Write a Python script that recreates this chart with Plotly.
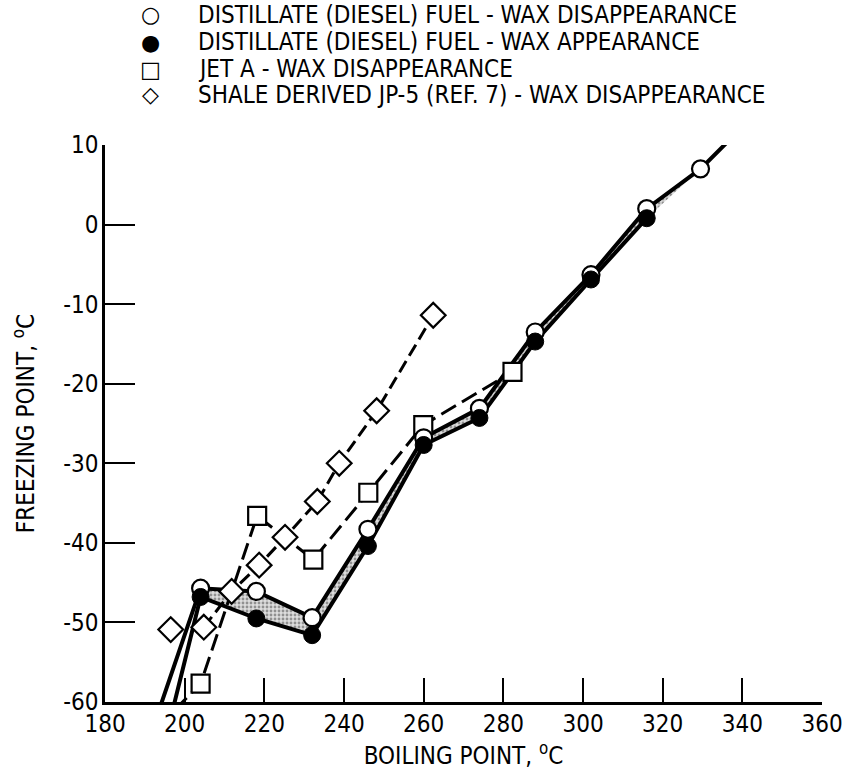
import plotly.graph_objects as go

# ---------------- data ----------------
# Distillate (diesel) fuel - wax disappearance (open circles)
dis_x = [204, 218, 232, 246, 260, 274, 288, 302, 316, 329.5]
dis_y = [-45.7, -46.1, -49.4, -38.3, -26.8, -23.1, -13.5, -6.3, 2.0, 7.0]
# Distillate (diesel) fuel - wax appearance (filled circles)
app_x = [204, 218, 232, 246, 260, 274, 288, 302, 316]
app_y = [-46.8, -49.5, -51.6, -40.4, -27.7, -24.3, -14.7, -6.9, 0.8]
# Jet A - wax disappearance (open squares)
jet_x = [204, 218.2, 232.3, 246.1, 259.9, 282.3]
jet_y = [-57.7, -36.6, -42.1, -33.7, -25.2, -18.5]
# Shale derived JP-5 (ref. 7) - wax disappearance (open diamonds)
sha_x = [196.5, None, 204.8, 211.8, 218.7, 225.2, 233.3, 238.8, 248.2, 262.4]
sha_y = [-50.9, None, -50.6, -46.1, -42.8, -39.3, -34.8, -30.0, -23.4, -11.4]

# faired-curve continuations beyond the plotted points (clipped by axes)
dis_tail_x, dis_tail_y = [192.9], [-62.0]
dis_head_x, dis_head_y = [336.5], [10.5]
app_tail_x, app_tail_y = [196.5], [-62.0]
jet_tail_x, jet_tail_y = [197.5], [-61.0]

x_ticks = [180, 200, 220, 240, 260, 280, 300, 320, 340, 360]
x_tick_text = ["180", "200", "220", "240", "260", "280", "300", "320", "340", "360"]
y_ticks = [-60, -50, -40, -30, -20, -10, 0, 10]
y_tick_text = ["-60", "-50", "-40", "-30", "-20", "-10", "0", "10"]

legend_symbols = ["○", "●", "□", "◇"]
legend_labels = [
    "DISTILLATE (DIESEL) FUEL - WAX DISAPPEARANCE",
    "DISTILLATE (DIESEL) FUEL - WAX APPEARANCE",
    "JET A - WAX DISAPPEARANCE",
    "SHALE DERIVED JP-5 (REF. 7) - WAX DISAPPEARANCE",
]

FAM = "Liberation Sans Narrow, DejaVu Sans Condensed, Arial Narrow, sans-serif"


def f(size):
    return dict(family=FAM, size=size, color="black")


fig = go.Figure()

# stippled band between the two diesel curves
dis_line_x = dis_tail_x + dis_x + dis_head_x
dis_line_y = dis_tail_y + dis_y + dis_head_y
app_line_x = app_tail_x + app_x
app_line_y = app_tail_y + app_y
band_x = dis_x + app_x[::-1]
band_y = dis_y + app_y[::-1]
fig.add_trace(go.Scatter(
    x=band_x, y=band_y, mode="lines", fill="toself",
    line=dict(width=0, color="rgba(0,0,0,0)"),
    fillcolor="rgba(190,190,190,1)",
    fillpattern=dict(shape=".", fgcolor="#444444", bgcolor="#dddddd", size=4, solidity=0.4),
    hoverinfo="skip", showlegend=False))

# lines
fig.add_trace(go.Scatter(x=sha_x, y=sha_y, mode="lines", connectgaps=False,
                         line=dict(color="black", width=3, dash="13px,6px"),
                         showlegend=False))
fig.add_trace(go.Scatter(x=jet_tail_x + jet_x, y=jet_tail_y + jet_y, mode="lines",
                         line=dict(color="black", width=3, dash="17px,7px"),
                         showlegend=False))
fig.add_trace(go.Scatter(x=dis_line_x, y=dis_line_y, mode="lines",
                         line=dict(color="black", width=4), showlegend=False))
fig.add_trace(go.Scatter(x=app_line_x, y=app_line_y, mode="lines",
                         line=dict(color="black", width=4), showlegend=False))

# markers
fig.add_trace(go.Scatter(x=sha_x, y=sha_y, mode="markers",
                         marker=dict(symbol="diamond", size=19, color="white",
                                     line=dict(color="black", width=2.2)),
                         name=legend_labels[3], showlegend=False))
fig.add_trace(go.Scatter(x=jet_x, y=jet_y, mode="markers",
                         marker=dict(symbol="square", size=18, color="white",
                                     line=dict(color="black", width=2.2)),
                         name=legend_labels[2], showlegend=False))
fig.add_trace(go.Scatter(x=dis_x, y=dis_y, mode="markers",
                         marker=dict(symbol="circle", size=17, color="white",
                                     line=dict(color="black", width=2.2)),
                         name=legend_labels[0], showlegend=False))
fig.add_trace(go.Scatter(x=app_x, y=app_y, mode="markers",
                         marker=dict(symbol="circle", size=17, color="black",
                                     line=dict(color="black", width=1)),
                         name=legend_labels[1], showlegend=False))

# legend as text
row_y = [1.2334, 1.1849, 1.1364, 1.0898]
for sym, lab, yy in zip(legend_symbols, legend_labels, row_y):
    fig.add_annotation(x=0.0628, y=yy, xref="paper", yref="paper", text=sym,
                       showarrow=False, xanchor="center", yanchor="middle",
                       font=dict(family="DejaVu Sans", size=22, color="black"))
    fig.add_annotation(x=0.1283, y=yy, xref="paper", yref="paper", text=lab,
                       showarrow=False, xanchor="left", yanchor="middle",
                       font=f(24), borderpad=0)

fig.update_layout(
    width=843, height=772,
    margin=dict(l=105, r=21, t=145, b=70, autoexpand=False),
    paper_bgcolor="white", plot_bgcolor="white",
    font=f(24),
    showlegend=False,
)
fig.update_xaxes(
    range=[180, 360], tickvals=x_ticks, ticktext=x_tick_text, automargin=False,
    ticks="inside", ticklen=24, tickwidth=2, tickcolor="black",
    showline=True, linecolor="black", linewidth=2.5, showgrid=False, zeroline=False,
    tickfont=f(24), ticklabelstandoff=-2,
    title=dict(text="BOILING POINT, <sup>o</sup>C", font=f(24), standoff=4),
)
fig.update_yaxes(
    range=[-60, 10], tickvals=y_ticks, ticktext=y_tick_text, automargin=False,
    ticks="inside", ticklen=30, tickwidth=2, tickcolor="black",
    showline=True, linecolor="black", linewidth=2.5, showgrid=False, zeroline=False,
    tickfont=f(24), ticklabelstandoff=-1,
    title=dict(text="FREEZING POINT, <sup>o</sup>C", font=f(24), standoff=22),
)

# remove the default page margin so the 843x772 figure fills the window exactly
fig.write_html(
    "out.html",
    config={"displayModeBar": False},
    post_script="document.body.style.margin='0';document.body.style.overflow='hidden';",
)
